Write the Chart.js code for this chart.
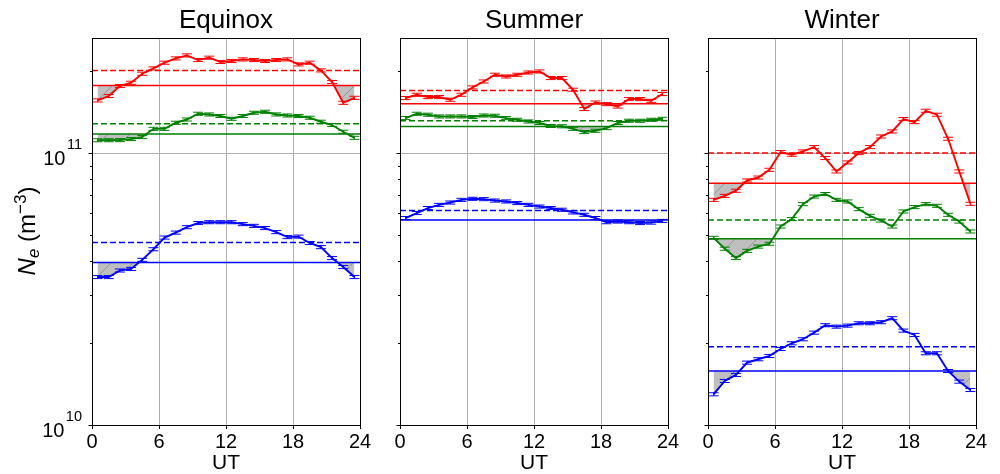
<!DOCTYPE html>
<html>
<head>
<meta charset="utf-8">
<script src="https://cdn.jsdelivr.net/npm/chart.js@4.4.0/dist/chart.umd.min.js"></script>
<style>
  html, body { margin: 0; padding: 0; background: #fff; }
  #wrap { position: relative; width: 1000px; height: 474px; overflow: hidden; }
  canvas { position: absolute; top: 0; }
</style>
</head>
<body>
<div id="wrap">
  <canvas id="panelEquinox" width="375" height="474" style="left:0px"></canvas>
  <canvas id="panelSummer" width="303" height="474" style="left:380px"></canvas>
  <canvas id="panelWinter" width="303" height="474" style="left:688px"></canvas>
</div>
<script>
// hourly bins (UT), centred on the half hour
const hours = [0.5, 1.5, 2.5, 3.5, 4.5, 5.5, 6.5, 7.5, 8.5, 9.5, 10.5, 11.5,
               12.5, 13.5, 14.5, 15.5, 16.5, 17.5, 18.5, 19.5, 20.5, 21.5, 22.5, 23.5];
const xTicks = [0, 6, 12, 18, 24];
const yTicks = [1e10, 2e10, 3e10, 4e10, 5e10, 6e10, 7e10, 8e10, 9e10, 1e11, 2e11];
const yMin = 1e10, yMax = 2.65e11;
const errRel = 0.013; // size of the error bars, relative

// Equinox
const equinoxRed = [1.562e11, 1.621e11, 1.765e11, 1.814e11, 1.958e11, 2.048e11, 2.150e11, 2.230e11,
                    2.287e11, 2.199e11, 2.243e11, 2.163e11, 2.181e11, 2.211e11, 2.199e11, 2.181e11,
                    2.199e11, 2.211e11, 2.119e11, 2.150e11, 2.014e11, 1.825e11, 1.531e11, 1.597e11];
const equinoxGreen = [1.115e11, 1.115e11, 1.116e11, 1.126e11, 1.145e11, 1.228e11, 1.228e11, 1.293e11,
                      1.329e11, 1.395e11, 1.387e11, 1.369e11, 1.337e11, 1.369e11, 1.407e11, 1.419e11,
                      1.387e11, 1.375e11, 1.369e11, 1.349e11, 1.304e11, 1.268e11, 1.198e11, 1.138e11];
const equinoxBlue = [3.50e10, 3.50e10, 3.70e10, 3.75e10, 4.05e10, 4.43e10, 4.89e10, 5.10e10,
                     5.34e10, 5.53e10, 5.57e10, 5.57e10, 5.57e10, 5.48e10, 5.40e10, 5.30e10,
                     5.12e10, 4.91e10, 4.93e10, 4.67e10, 4.51e10, 4.11e10, 3.81e10, 3.50e10];
// [solid, dashed]
const equinoxRedLines = [1.774e11, 2.014e11];
const equinoxGreenLines = [1.175e11, 1.282e11];
const equinoxBlueLines = [3.96e10, 4.69e10];

// Summer
const summerRed = [1.594e11, 1.639e11, 1.607e11, 1.607e11, 1.571e11, 1.639e11, 1.744e11, 1.834e11,
                   1.941e11, 1.913e11, 1.941e11, 1.979e11, 1.996e11, 1.888e11, 1.888e11, 1.710e11,
                   1.452e11, 1.535e11, 1.514e11, 1.483e11, 1.580e11, 1.580e11, 1.557e11, 1.649e11];
const summerGreen = [1.345e11, 1.395e11, 1.384e11, 1.364e11, 1.364e11, 1.364e11, 1.357e11, 1.375e11,
                     1.372e11, 1.345e11, 1.326e11, 1.307e11, 1.290e11, 1.258e11, 1.255e11, 1.228e11,
                     1.195e11, 1.208e11, 1.236e11, 1.290e11, 1.315e11, 1.315e11, 1.326e11, 1.337e11];
const summerBlue = [5.77e10, 6.02e10, 6.28e10, 6.45e10, 6.58e10, 6.73e10, 6.79e10, 6.77e10,
                    6.69e10, 6.64e10, 6.55e10, 6.45e10, 6.36e10, 6.28e10, 6.19e10, 6.05e10,
                    5.93e10, 5.77e10, 5.57e10, 5.60e10, 5.57e10, 5.53e10, 5.55e10, 5.63e10];
const summerRedLines = [1.518e11, 1.700e11];
const summerGreenLines = [1.253e11, 1.315e11];
const summerBlueLines = [5.68e10, 6.15e10];

// Winter
const winterRed = [6.73e10, 6.96e10, 7.27e10, 7.93e10, 8.13e10, 8.68e10, 1.0085e11, 9.86e10,
                   1.014e11, 1.052e11, 9.59e10, 8.56e10, 9.24e10, 1.00e11, 1.052e11, 1.151e11,
                   1.201e11, 1.334e11, 1.300e11, 1.431e11, 1.384e11, 1.129e11, 8.56e10, 6.51e10];
const winterGreen = [4.88e10, 4.45e10, 4.11e10, 4.37e10, 4.53e10, 4.64e10, 5.37e10, 5.72e10,
                     6.49e10, 6.92e10, 7.07e10, 6.73e10, 6.64e10, 6.22e10, 5.88e10, 5.65e10,
                     5.37e10, 6.10e10, 6.33e10, 6.49e10, 6.40e10, 5.93e10, 5.60e10, 5.15e10];
const winterBlue = [1.297e10, 1.452e10, 1.528e10, 1.696e10, 1.745e10, 1.795e10, 1.904e10, 1.998e10,
                    2.067e10, 2.186e10, 2.328e10, 2.300e10, 2.320e10, 2.367e10, 2.367e10, 2.388e10,
                    2.470e10, 2.224e10, 2.144e10, 1.836e10, 1.836e10, 1.580e10, 1.444e10, 1.345e10];
const winterRedLines = [7.75e10, 1.00e11];
const winterGreenLines = [4.84e10, 5.68e10];
const winterBlueLines = [1.58e10, 1.94e10];

Chart.defaults.font.family = "'Liberation Sans', Arial, sans-serif";
Chart.defaults.color = '#000';

// grey fill with sparse "//" hatching
const hatch = (function () {
  const c = document.createElement('canvas');
  c.width = 22; c.height = 22;
  const g = c.getContext('2d');
  g.fillStyle = '#bfbfbf';
  g.fillRect(0, 0, 22, 22);
  g.strokeStyle = '#8a8a8a';
  g.lineWidth = 0.8;
  g.beginPath();
  g.moveTo(-2, 24); g.lineTo(24, -2);
  g.stroke();
  return g.createPattern(c, 'repeat');
})();

function curve(vals, color, target) {
  return {
    data: hours.map((h, i) => ({x: h, y: vals[i]})),
    borderColor: color,
    borderWidth: 1.9,
    pointRadius: 0,
    fill: {target: target, above: 'rgba(0,0,0,0)', below: hatch},
    errRel: errRel
  };
}

function level(v, color, dashed) {
  return {
    data: [{x: 0, y: v}, {x: 24, y: v}],
    borderColor: color,
    borderWidth: 1.5,
    borderDash: dashed ? [6, 3] : [],
    pointRadius: 0,
    fill: false
  };
}

// error bars, frame, y tick marks
const decoPlugin = {
  id: 'deco',
  afterDatasetsDraw(chart) {
    const ctx = chart.ctx, xs = chart.scales.x, ys = chart.scales.y;
    chart.data.datasets.forEach(ds => {
      if (!ds.errRel) return;
      ctx.save();
      ctx.strokeStyle = ds.borderColor;
      ctx.lineWidth = 1;
      ds.data.forEach(p => {
        const x = xs.getPixelForValue(p.x);
        const y1 = ys.getPixelForValue(p.y * (1 - ds.errRel));
        const y2 = ys.getPixelForValue(p.y * (1 + ds.errRel));
        ctx.beginPath();
        ctx.moveTo(x, y1); ctx.lineTo(x, y2);
        ctx.moveTo(x - 5, y1); ctx.lineTo(x + 5, y1);
        ctx.moveTo(x - 5, y2); ctx.lineTo(x + 5, y2);
        ctx.stroke();
      });
      ctx.restore();
    });
  },
  afterDraw(chart) {
    const ctx = chart.ctx, a = chart.chartArea, ys = chart.scales.y;
    ctx.save();
    ctx.strokeStyle = '#000';
    ctx.lineWidth = 1;
    ctx.strokeRect(a.left + 0.5, a.top + 0.5, a.right - a.left, a.bottom - a.top);
    yTicks.forEach(v => {
      const y = Math.round(ys.getPixelForValue(v)) + 0.5;
      const major = (v === 1e10 || v === 1e11);
      ctx.beginPath();
      ctx.moveTo(a.left - (major ? 3.5 : 2), y);
      ctx.lineTo(a.left, y);
      ctx.stroke();
    });
    ctx.restore();
  }
};

// y tick labels (10^n) and the axis label, first panel only
const yLabelPlugin = {
  id: 'ylabels',
  afterDraw(chart) {
    const ctx = chart.ctx, ys = chart.scales.y;
    const fam = "'Liberation Sans', Arial, sans-serif";
    ctx.save();
    ctx.fillStyle = '#000';
    ctx.textAlign = 'right';
    ctx.textBaseline = 'alphabetic';
    [[1e10, '10'], [1e11, '11']].forEach(([v, exp]) => {
      const y = ys.getPixelForValue(v);
      ctx.font = '14.5px ' + fam;
      const ew = ctx.measureText(exp).width;
      ctx.fillText(exp, 82, y - 4);
      ctx.font = '20px ' + fam;
      ctx.fillText('10', 82 - ew - 1.5, y + 11.5);
    });

    const parts = [
      ['N', 'italic 24px ' + fam, 0],
      ['e', 'italic 17px ' + fam, 4],
      [' (m', '24px ' + fam, 0],
      ['\u22123', '17px ' + fam, -9],
      [')', '24px ' + fam, 0]
    ];
    let total = 0;
    parts.forEach(p => { ctx.font = p[1]; total += ctx.measureText(p[0]).width; });
    ctx.translate(35, 231);
    ctx.rotate(-Math.PI / 2);
    ctx.textAlign = 'left';
    let x = -total / 2;
    parts.forEach(p => {
      ctx.font = p[1];
      ctx.fillText(p[0], x, p[2]);
      x += ctx.measureText(p[0]).width;
    });
    ctx.restore();
  }
};

function buildPanel(id, title, series, padLeft, extraPlugins) {
  const datasets = [];
  series.forEach((s, k) => datasets.push(curve(s[0], s[2], 3 + k)));
  series.forEach(s => datasets.push(level(s[1][0], s[2], false)));
  series.forEach(s => datasets.push(level(s[1][1], s[2], true)));

  return new Chart(document.getElementById(id), {
    type: 'line',
    data: {datasets: datasets},
    options: {
      responsive: false,
      animation: false,
      events: [],
      layout: {padding: {left: padLeft, right: 15, top: 0, bottom: 0}},
      plugins: {
        legend: {display: false},
        tooltip: {enabled: false},
        filler: {drawTime: 'beforeDatasetsDraw'},
        title: {
          display: true,
          text: title,
          font: {size: 26, weight: 'normal'},
          color: '#000',
          padding: {top: 5, bottom: 1.8}
        }
      },
      scales: {
        x: {
          type: 'linear',
          min: 0,
          max: 24,
          afterBuildTicks: s => { s.ticks = xTicks.map(v => ({value: v})); },
          afterFit: s => { s.height = 49; },
          ticks: {font: {size: 20}, color: '#000', padding: 1, maxRotation: 0, autoSkip: false},
          grid: {
            color: c => (c.tick && c.tick.value > 0 && c.tick.value < 24) ? '#b0b0b0' : 'rgba(0,0,0,0)',
            tickColor: '#000',
            tickLength: 4,
            lineWidth: 1
          },
          border: {display: true, color: '#000', width: 1},
          title: {display: true, text: 'UT', font: {size: 21}, color: '#000', padding: {top: 0, bottom: -2}}
        },
        y: {
          type: 'logarithmic',
          min: yMin,
          max: yMax,
          afterBuildTicks: s => { s.ticks = yTicks.map(v => ({value: v})); },
          afterFit: s => { s.width = 0; },
          ticks: {display: false},
          grid: {
            color: c => (c.tick && c.tick.value === 1e11) ? '#b0b0b0' : 'rgba(0,0,0,0)',
            drawTicks: false,
            lineWidth: 1
          },
          border: {display: true, color: '#000', width: 1}
        }
      }
    },
    plugins: [decoPlugin].concat(extraPlugins)
  });
}

buildPanel('panelEquinox', 'Equinox', [
  [equinoxRed, equinoxRedLines, '#ff0000'],
  [equinoxGreen, equinoxGreenLines, '#008000'],
  [equinoxBlue, equinoxBlueLines, '#0000ff']
], 92, [yLabelPlugin]);

buildPanel('panelSummer', 'Summer', [
  [summerRed, summerRedLines, '#ff0000'],
  [summerGreen, summerGreenLines, '#008000'],
  [summerBlue, summerBlueLines, '#0000ff']
], 20, []);

buildPanel('panelWinter', 'Winter', [
  [winterRed, winterRedLines, '#ff0000'],
  [winterGreen, winterGreenLines, '#008000'],
  [winterBlue, winterBlueLines, '#0000ff']
], 20, []);
</script>
</body>
</html>
